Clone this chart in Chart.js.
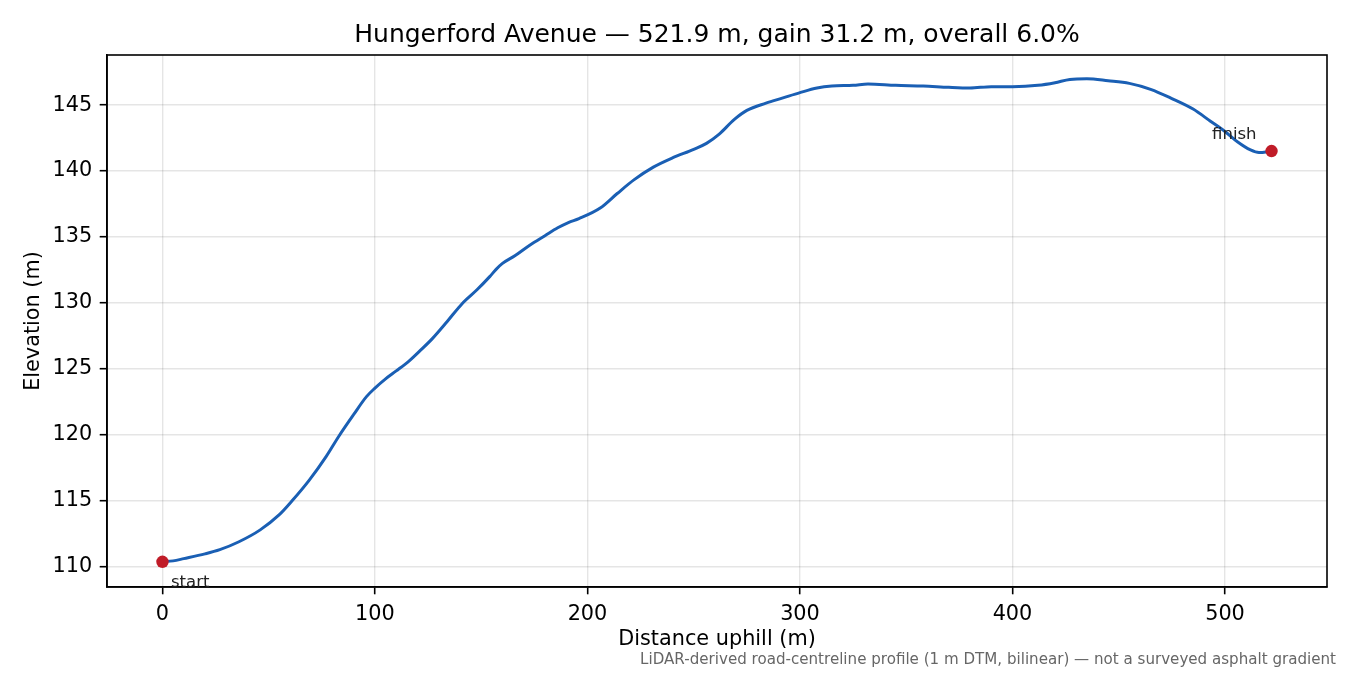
<!DOCTYPE html>
<html lang="en">
<head>
    <meta charset="UTF-8">
    <title>Hungerford Avenue - elevation profile</title>
    <script src="https://cdn.jsdelivr.net/npm/chart.js"></script>
    <style>
        body { margin: 0; background: #ffffff; }
        #wrap { width: 1350px; height: 675px; }
    </style>
</head>
<body>
    <div id="wrap"><canvas id="profileChart" width="1350" height="675"></canvas></div>

    <script>
        // distance along the road (m) and elevation (m)
        const distance = [0, 5, 10, 20, 27, 36, 46, 55, 61, 69, 77, 83, 90, 96, 100, 105, 110, 116, 121, 127,
            134, 141, 148, 154, 157, 160, 166, 173, 180, 186, 191, 196, 206, 214, 222, 231, 240, 250, 256, 262,
            269, 275, 284, 292, 300, 308, 315, 325, 332, 345, 358, 370, 380, 390, 400, 412, 420, 427,
            435, 445, 455, 465, 475, 485, 493, 500, 506, 512, 516, 521.9];
        const elevation = [110.38, 110.45, 110.62, 110.98, 111.3, 111.9, 112.8, 113.95, 115.0, 116.55, 118.35, 119.9, 121.55, 122.9, 123.55, 124.25, 124.85, 125.6, 126.35, 127.3,
            128.6, 129.95, 131.0, 132.0, 132.55, 133.0, 133.6, 134.4, 135.1, 135.7, 136.1, 136.4, 137.2, 138.3, 139.35, 140.3, 141.0, 141.65, 142.1, 142.8,
            143.9, 144.6, 145.15, 145.55, 145.95, 146.3, 146.45, 146.5, 146.6, 146.5, 146.45, 146.35, 146.3, 146.4, 146.4, 146.5, 146.7, 146.95,
            147.0, 146.85, 146.65, 146.2, 145.5, 144.7, 143.8, 143.0, 142.2, 141.6, 141.4, 141.52];

        const endLabels = ['start', 'finish'];
        const xTicks = [0, 100, 200, 300, 400, 500];
        const yTicks = [110, 115, 120, 125, 130, 135, 140, 145];

        const titleText = 'Hungerford Avenue \u2014 521.9 m, gain 31.2 m, overall 6.0%';
        const footText = 'LiDAR-derived road-centreline profile (1 m DTM, bilinear) \u2014 not a surveyed asphalt gradient';

        const FONT = 'DejaVu Sans';

        const profile = distance.map((d, i) => ({ x: d, y: elevation[i] }));
        const last = distance.length - 1;
        const ends = [
            { x: distance[0], y: elevation[0] },
            { x: distance[last], y: elevation[last] }
        ];

        // frame, start/finish labels and footnote
        const extras = {
            id: 'extras',
            afterDraw(chart) {
                const { ctx, chartArea: a, scales } = chart;
                ctx.save();
                ctx.strokeStyle = '#000';
                ctx.lineWidth = 1.6;
                ctx.strokeRect(a.left, a.top, a.right - a.left, a.bottom - a.top);

                ctx.fillStyle = '#222';
                ctx.font = '16.5px "' + FONT + '"';
                ctx.textBaseline = 'alphabetic';
                const sx = scales.x.getPixelForValue(ends[0].x);
                const sy = scales.y.getPixelForValue(ends[0].y);
                ctx.textAlign = 'left';
                ctx.fillText(endLabels[0], sx + 8.5, sy + 25);
                const fx = scales.x.getPixelForValue(ends[1].x);
                const fy = scales.y.getPixelForValue(ends[1].y);
                ctx.textAlign = 'right';
                ctx.fillText(endLabels[1], fx - 15, fy - 12.5);

                ctx.fillStyle = '#666';
                ctx.font = '15.1px "' + FONT + '"';
                ctx.textAlign = 'right';
                ctx.textBaseline = 'middle';
                ctx.fillText(footText, 1336, 660);
                ctx.restore();
            }
        };

        const gridOpts = {
            color: 'rgba(0,0,0,0.1)',
            lineWidth: 1.4,
            tickColor: '#000',
            tickLength: 7.3,
            tickWidth: 1.6
        };

        new Chart(document.getElementById('profileChart'), {
            type: 'scatter',
            data: {
                datasets: [{
                    data: profile,
                    showLine: true,
                    borderColor: '#1a5fb4',
                    borderWidth: 3,
                    pointRadius: 0,
                    cubicInterpolationMode: 'monotone',
                    order: 2
                }, {
                    data: ends,
                    backgroundColor: '#c01c28',
                    borderColor: '#c01c28',
                    pointRadius: 6.2,
                    borderWidth: 0,
                    order: 1
                }]
            },
            options: {
                responsive: false,
                animation: false,
                layout: { padding: { left: 0, right: 23, top: 0, bottom: 0 } },
                plugins: {
                    legend: { display: false },
                    tooltip: { enabled: false },
                    title: {
                        display: true,
                        fullSize: false,
                        text: titleText,
                        color: '#000',
                        font: { family: FONT, size: 25, weight: 'normal' },
                        padding: { top: 20, bottom: 5 }
                    }
                },
                scales: {
                    x: {
                        type: 'linear',
                        min: -26.1,
                        max: 548.0,
                        grid: gridOpts,
                        border: { display: true, color: '#000', width: 1.6 },
                        ticks: { color: '#000', font: { family: FONT, size: 20.8 }, padding: 8, autoSkip: false, maxRotation: 0 },
                        afterBuildTicks: (s) => { s.ticks = xTicks.map(v => ({ value: v })); },
                        afterFit: (s) => { s.height = 88; },
                        title: {
                            display: true,
                            text: 'Distance uphill (m)',
                            color: '#000',
                            font: { family: FONT, size: 20.8 },
                            padding: { top: 0, bottom: 22.5 }
                        }
                    },
                    y: {
                        type: 'linear',
                        min: 108.47,
                        max: 148.8,
                        grid: gridOpts,
                        border: { display: true, color: '#000', width: 1.6 },
                        ticks: { color: '#000', font: { family: FONT, size: 20.8 }, padding: 7.5, autoSkip: false },
                        afterBuildTicks: (s) => { s.ticks = yTicks.map(v => ({ value: v })); },
                        afterFit: (s) => { s.width = 107; },
                        title: {
                            display: true,
                            text: 'Elevation (m)',
                            color: '#000',
                            font: { family: FONT, size: 20.8 },
                            padding: { top: 21.5, bottom: 0 }
                        }
                    }
                }
            },
            plugins: [extras]
        });
    </script>
</body>
</html>
